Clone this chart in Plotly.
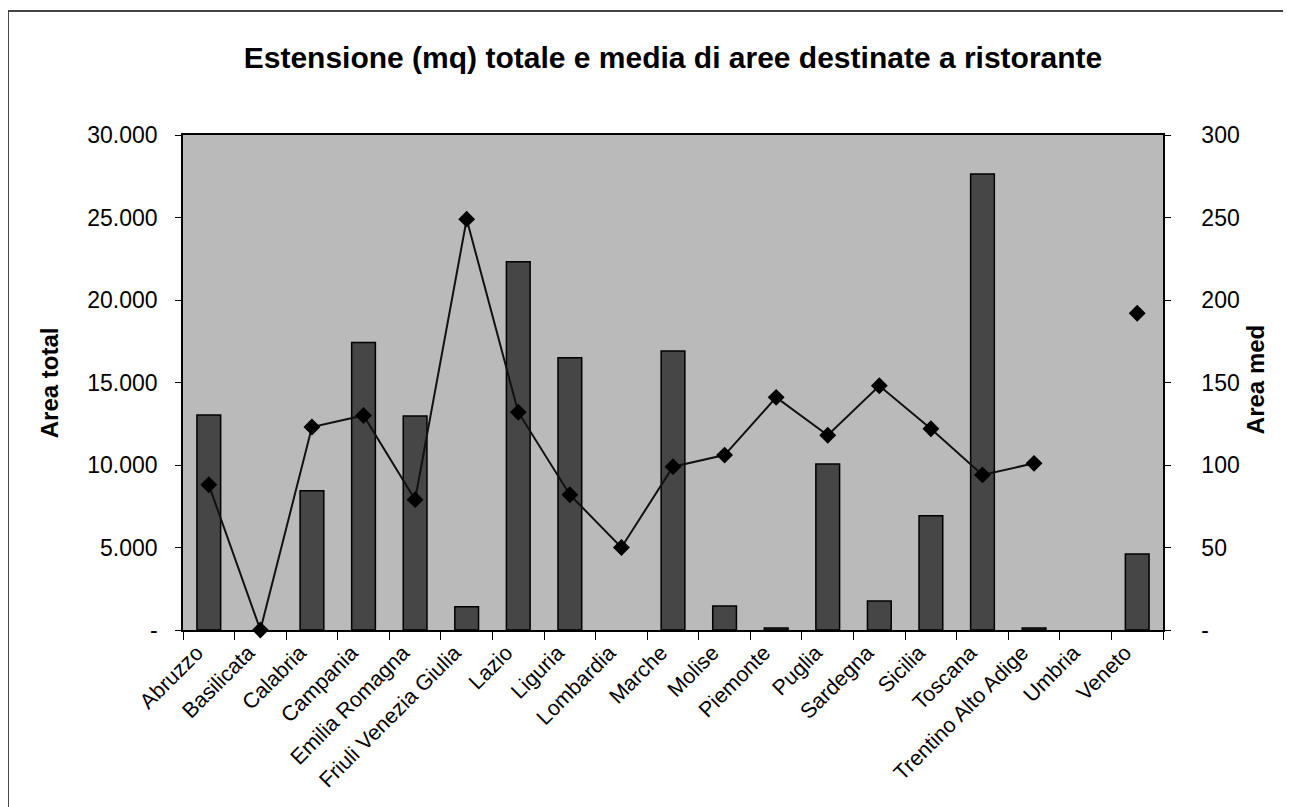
"""Combo chart: total (bars) and average (line) restaurant area by region."""

import plotly.graph_objects as go

FONT = "Arial, Liberation Sans, sans-serif"
BAR_COLOR = "#464646"
PLOT_BG = "#bababa"

regions = [
    "Abruzzo", "Basilicata", "Calabria", "Campania", "Emilia Romagna",
    "Friuli Venezia Giulia", "Lazio", "Liguria", "Lombardia", "Marche",
    "Molise", "Piemonte", "Puglia", "Sardegna", "Sicilia", "Toscana",
    "Trentino Alto Adige", "Umbria", "Veneto",
]
# None = no bar drawn (empty cell in the source sheet)
area_totale = [
    13030, None, 8440, 17430, 12970,
    1410, 22320, 16500, None, 16910,
    1450, 120, 10060, 1760, 6930, 27640,
    120, None, 4600,
]
area_media = [
    88, 0, 123, 130, 79,
    249, 132, 82, 50, 99,
    106, 141, 118, 148, 122, 94,
    101, None, 192,
]

left_ticks = [0, 5000, 10000, 15000, 20000, 25000, 30000]
left_labels = ["-", "5.000", "10.000", "15.000", "20.000", "25.000", "30.000"]
right_ticks = [0, 50, 100, 150, 200, 250, 300]
right_labels = ["-", "50", "100", "150", "200", "250", "300"]

fig = go.Figure()
fig.add_trace(go.Bar(
    x=regions, y=area_totale, name="Area totale",
    width=0.46,
    marker=dict(color=BAR_COLOR, line=dict(color="black", width=1.5)),
    yaxis="y",
))
fig.add_trace(go.Scatter(
    x=regions, y=area_media, name="Area media",
    mode="lines+markers", connectgaps=False, cliponaxis=False,
    line=dict(color="#111111", width=2),
    marker=dict(symbol="diamond", size=13, color="black"),
    yaxis="y2",
))

axis_font = dict(family=FONT, size=23, color="black")
# page body adds 8px, so the figure is 8px smaller and margins shifted
fig.update_layout(
    width=1283, height=799,
    margin=dict(l=175, r=128, t=127, b=177),
    paper_bgcolor="white", plot_bgcolor=PLOT_BG,
    showlegend=False,
    font=dict(family=FONT, color="black"),
    title=dict(
        text="<b>Estensione (mq) totale e media di aree destinate a ristorante</b>",
        x=0.5, xanchor="center", y=(799 - 49) / 799, yanchor="middle",
        xref="paper", yref="container",
        font=dict(family=FONT, size=30, color="black"),
    ),
    xaxis=dict(
        type="category", range=[-0.5, len(regions) - 0.5],
        tickangle=-45, tickson="boundaries",
        ticks="outside", ticklen=8, tickcolor="black",
        ticklabelshift=-12,
        showline=True, linecolor="black", linewidth=1.5, mirror=True,
        showgrid=False, tickfont=dict(family=FONT, size=21.5, color="black"),
    ),
    yaxis=dict(
        range=[0, 30000], tickvals=left_ticks, ticktext=left_labels,
        ticks="outside", ticklen=6, tickcolor="black",
        showline=True, linecolor="black", linewidth=1.5,
        showgrid=False, zeroline=False, ticklabelstandoff=13,
        tickfont=axis_font,
    ),
    yaxis2=dict(
        range=[0, 300], tickvals=right_ticks, ticktext=right_labels,
        overlaying="y", side="right",
        ticks="outside", ticklen=6, tickcolor="black",
        showline=True, linecolor="black", linewidth=1.5,
        showgrid=False, zeroline=False, ticklabelstandoff=26,
        tickfont=axis_font,
    ),
    annotations=[
        dict(text="<b>Area total</b>", textangle=-90, showarrow=False,
             xref="paper", yref="paper", x=-0.136, y=0.5,
             xanchor="center", yanchor="middle",
             font=dict(family=FONT, size=24, color="black")),
        dict(text="<b>Area med</b>", textangle=-90, showarrow=False,
             xref="paper", yref="paper", x=1.094, y=0.505,
             xanchor="center", yanchor="middle",
             font=dict(family=FONT, size=24, color="black")),
    ],
    shapes=[
        # outer chart frame
        dict(type="rect", xref="paper", yref="paper",
             x0=-0.1786, x1=1.1235, y0=-0.38, y1=1.2505,
             line=dict(color="#444444", width=2), layer="below"),
    ],
)

fig.write_html("out.html")
